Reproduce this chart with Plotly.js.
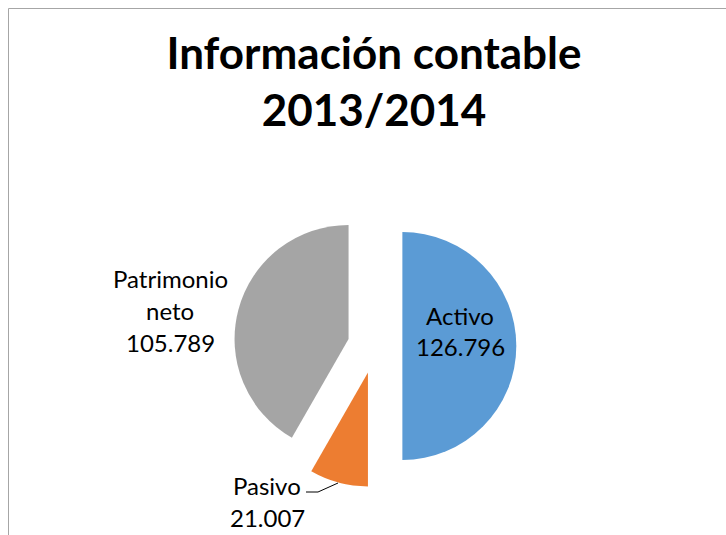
<!DOCTYPE html>
<html>
<head>
<meta charset="utf-8">
<script src="https://cdn.plot.ly/plotly-3.0.1.min.js"></script>
<style>
  html, body { margin: 0; padding: 0; background: #ffffff; }
  #chart { width: 726px; height: 535px; }
</style>
</head>
<body>
<div id="chart"></div>
<script>
// Data
const categories = ["Activo", "Pasivo", "Patrimonio neto"];
const values = [126796, 21007, 105789];
const colors = ["#5B9BD5", "#ED7D31", "#A5A5A5"];
const titleLines = ["Información contable", "2013/2014"];

const W = 726, H = 535;
const px = x => x / W;
const py = y => 1 - y / H;

function fmt(v) {
  return String(v).replace(/\B(?=(\d{3})+(?!\d))/g, ".");
}

const font = "Lato, 'Open Sans', sans-serif";
const labelSize = 24;

// label line layouts (positions only)
const labelPos = [
  { lines: [categories[0], fmt(values[0])], x: 460, ys: [315, 346] },
  { lines: [categories[1], fmt(values[1])], x: 267, ys: [485, 517] },
  { lines: categories[2].split(" ").concat([fmt(values[2])]), x: 170, ys: [278, 310, 342] }
];

const annotations = [];
labelPos.forEach(lp => {
  lp.lines.forEach((t, i) => {
    annotations.push({
      text: t, showarrow: false, xref: "paper", yref: "paper",
      x: px(lp.x), y: py(lp.ys[i]), xanchor: "center", yanchor: "middle",
      font: { family: font, size: labelSize, color: "#000000" }
    });
  });
});

// pie geometry
const cx = 375, cy = 346, r = 114, pull = 0.24;
const half = r * (1 + pull);

const trace = {
  type: "pie",
  labels: categories,
  values: values,
  sort: false,
  direction: "clockwise",
  rotation: 0,
  pull: [pull, pull, pull],
  marker: { colors: colors, line: { width: 0 } },
  textinfo: "none",
  hoverinfo: "label+value",
  showlegend: false,
  domain: { x: [px(cx - half), px(cx + half)], y: [py(cy + half), py(cy - half)] }
};

const layout = {
  width: W, height: H,
  margin: { l: 0, r: 0, t: 0, b: 0 },
  paper_bgcolor: "#ffffff",
  showlegend: false,
  title: {
    text: titleLines.join("<br>"),
    font: { family: font, size: 44, color: "#000000", weight: "bold" },
    x: px(374), xanchor: "center",
    y: py(69), yanchor: "top"
  },
  annotations: annotations,
  shapes: [
    { type: "line", xref: "paper", yref: "paper", x0: px(8.5), y0: py(8.5), x1: px(730), y1: py(8.5), line: { color: "#A6A6A6", width: 1 } },
    { type: "line", xref: "paper", yref: "paper", x0: px(8.5), y0: py(8.5), x1: px(8.5), y1: py(540), line: { color: "#A6A6A6", width: 1 } },
    { type: "path", xref: "paper", yref: "paper",
      path: "M " + px(306) + "," + py(492) + " L " + px(318) + "," + py(492) + " L " + px(338) + "," + py(483),
      line: { color: "#000000", width: 1 } }
  ]
};

Plotly.newPlot("chart", [trace], layout, { displayModeBar: false, staticPlot: true });
</script>
</body>
</html>
